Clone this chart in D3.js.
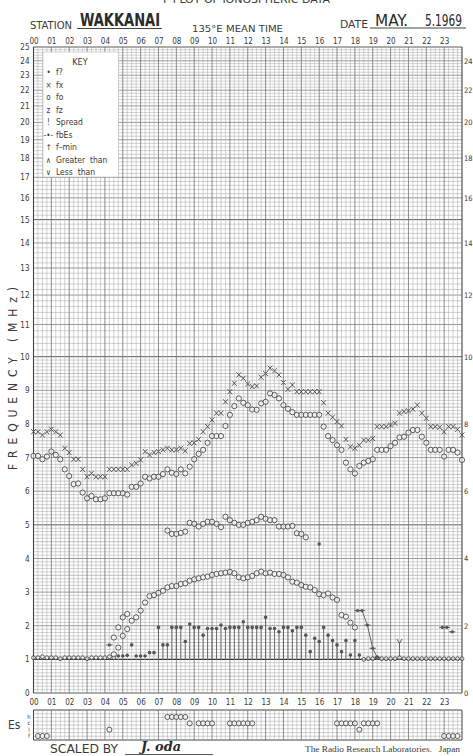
<!DOCTYPE html>
<html>
<head>
<meta charset="utf-8">
<script src="https://cdn.jsdelivr.net/npm/d3@7"></script>
<style>
body { margin: 0; background: #fff; }
svg { display: block; }
</style>
</head>
<body>
<script>
var hourLabels = ["00","01","02","03","04","05","06","07","08","09","10","11",
                  "12","13","14","15","16","17","18","19","20","21","22","23"];
var leftTicks = [0,1,2,3,4,5,6,7,8,9,10,11,12,13,14,15,16,17,18,19,20,21,22,23,24,25];
var rightTicks = [0,2,4,6,8,10,12,14,16,18,20,22,24];

// foF2, every 15 min from 00:00 to 24:00
var foF2 = [7.05,7.05,6.95,7.03, 7.18,7.08,6.95,6.65, 6.45,6.21,6.23,5.96, 5.79,5.86,5.76,5.76,
            5.79,5.94,5.94,5.94, 5.94,5.90,6.13,6.13, 6.23,6.43,6.38,6.43, 6.43,6.51,6.65,6.55,
            6.51,6.65,6.53,6.73, 6.95,7.11,7.23,7.44, 7.64,7.64,7.64,7.94, 8.27,8.53,8.76,8.63,
            8.56,8.43,8.42,8.61, 8.66,8.91,8.86,8.76, 8.56,8.45,8.35,8.27, 8.27,8.27,8.27,8.27,
            8.27,7.92,7.64,7.52, 7.37,7.23,6.85,6.65, 6.53,6.75,6.85,6.90, 6.95,7.23,7.23,7.23,
            7.34,7.44,7.60,7.62, 7.74,7.82,7.82,7.62, 7.44,7.23,7.23,7.23, 7.03,7.23,7.23,7.15,
            6.93];
// fxF2, same times
var fxF2 = [7.77,7.77,7.67,7.77, 7.84,7.77,7.67,7.28, 7.15,6.95,6.95,6.65, 6.43,6.53,6.43,6.43,
            6.43,6.65,6.65,6.65, 6.65,6.65,6.78,6.83, 6.93,7.18,7.08,7.15, 7.18,7.23,7.28,7.23,
            7.23,7.28,7.20,7.42, 7.44,7.54,7.77,7.92, 8.12,8.32,8.32,8.66, 8.96,9.21,9.46,9.36,
            9.19,9.11,9.13,9.39, 9.50,9.66,9.58,9.46, 9.23,9.03,9.16,8.96, 8.96,8.96,8.96,8.96,
            8.96,8.63,8.32,8.20, 8.07,7.94,7.54,7.32, 7.28,7.37,7.52,7.52, 7.57,7.92,7.92,7.92,
            7.97,8.02,8.32,8.37, 8.39,8.44,8.56,8.32, 8.17,7.92,7.92,7.90, 7.77,7.92,7.92,7.84,
            7.67];

var foF1Hours = [7.5,7.75,8,8.25,8.5,8.75,9,9.25,9.5,9.75,10,10.25,10.5,10.75,11,11.25,
                 11.5,11.75,12,12.25,12.5,12.75,13,13.25,13.5,13.75,14,14.25,14.5,14.75,15,15.25];
var foF1 = [4.83,4.73,4.73,4.76,4.80,5.06,5.03,4.95,5.03,5.09,5.09,5.03,4.93,5.24,5.14,5.06,
            5.00,5.00,5.06,5.09,5.14,5.24,5.18,5.14,5.14,4.95,4.95,4.95,4.97,4.75,4.73,4.63];

var foEHours = [4.5,4.75,4.5,4.75,5,5,5.25,5.25,5.5,5.75,6,6.25,6.5,6.75,7,7.25,7.5,7.75,8,8.25,
                8.5,8.75,9,9.25,9.5,9.75,10,10.25,10.5,10.75,11,11.25,11.5,11.75,12,12.25,12.5,
                12.75,13,13.25,13.5,13.75,14,14.25,14.5,14.75,15,15.25,15.5,15.75,16,16.25,16.5,
                16.75,17,17.25,17.5,17.75,18];
var foE = [1.15,1.35,1.65,1.95,1.70,2.25,2.35,1.90,2.15,2.25,2.45,2.69,2.88,2.91,2.98,3.04,3.14,
           3.18,3.18,3.24,3.26,3.34,3.38,3.41,3.44,3.46,3.51,3.54,3.56,3.58,3.60,3.56,3.44,3.41,
           3.44,3.48,3.56,3.61,3.56,3.58,3.54,3.54,3.51,3.44,3.31,3.28,3.21,3.16,3.14,3.06,2.94,
           2.91,2.96,2.84,2.77,2.32,2.27,2.09,1.95];

// f? dots with their vertical traces down to 1 MHz
var esDotHours = [7,7.25,7.5,7.75,8,8.25,8.5,8.75,9,9.25,9.5,9.75,10,10.25,10.5,10.75,11,11.25,
                  11.5,11.75,12,12.25,12.5,12.75,13,13.25,13.5,13.75,14,14.25,14.5,14.75,15,
                  15.25,15.5,15.75,16,16.25,16.5,16.75,17,17.25,17.5,17.75,18,18.25];
var esDot = [1.95,1.43,1.43,1.95,1.95,1.95,1.53,2.05,1.95,1.95,1.72,1.92,1.92,1.92,2.02,1.92,
             1.95,1.95,1.95,2.12,1.95,1.95,1.95,1.95,2.25,1.92,1.92,1.82,1.95,1.95,1.85,1.95,
             1.95,1.72,1.23,1.63,1.53,1.95,1.72,1.56,1.43,1.23,1.56,1.13,1.56,1.13];
// loose dots without traces
var looseDotHours = [4.75,5,5.25,5.5,5.75,6,6.25,6.5,6.75,16];
var looseDot = [1.10,1.10,1.12,1.43,1.10,1.10,1.10,1.20,1.20,4.43];

// fbEs
var fbEsHours = [4.25,22.9,23.15,23.45];
var fbEs = [1.43,1.95,1.95,1.82];
var fbEsTraceHours = [18.15,18.4,18.7,19.0,19.25];
var fbEsTrace = [2.45,2.45,2.02,1.33,1.06];

// f-min
var fminHours = [0,0.25,0.5,0.75,1,1.25,1.5,1.75,2,2.25,2.5,2.75,3,3.25,3.5,3.75,4,4.25,4.5,
                 18.5,18.75,19,19.25,19.5,19.75,20,20.25,20.5,20.75,21,21.25,21.5,21.75,22,
                 22.25,22.5,22.75,23,23.25,23.5,23.75,24];
var fmin = [1.05,1.05,1.08,1.05,1.05,1.05,1.02,1.05,1.05,1.05,1.05,1.05,1.02,1.05,1.05,1.05,1.05,1.08,1.05,
            1.00,1.02,1.02,1.05,1.02,1.02,1.02,1.02,1.05,1.02,1.02,1.02,1.02,1.02,1.02,
            1.02,1.02,1.02,1.02,1.02,1.02,1.02,1.02];

var lessHours = [20.5];
var lessThan = [1.5];

// Es type panel
var esTypeHours = [0.25,0.5,0.75,4.25,7.5,7.75,8,8.25,8.5,8.75,9.25,9.5,9.75,10,
                   11,11.25,11.5,11.75,12,12.25,17,17.25,17.5,17.75,18,18.25,18.5,18.75,19,19.25,
                   23,23.25,23.5,23.75];
var esTypes = ["f","f","f","l","h","h","h","h","h","c","c","c","c","c",
               "c","c","c","c","c","c","c","c","c","c","c","l","c","c","c","c",
               "f","f","f","f"];
var esRows = ["h","c","l","f"];

var keyItems = [["\u2022","f?"],["\u00d7","fx"],["o","fo"],["z","fz"],["!","Spread"],
                ["-\u2022-","fbEs"],["\u2191","f\u2013min"],["\u2227","Greater  than"],["\u2228","Less  than"]];

// ---- drawing ----
var FONT = '"DejaVu Sans Condensed","Liberation Sans Narrow",sans-serif';
var INK = "#3a3a3a";
var width = 473, height = 756;

var svg = d3.select("body").append("svg")
    .attr("width", width)
    .attr("height", height)
    .style("font-family", FONT);

var x = d3.scaleLinear().domain([0, 24]).range([33.5, 462]);
var yLow = d3.scaleLinear().domain([0, 10]).range([693, 356.7]);
var yHigh = d3.scaleLog().domain([10, 25]).range([356.7, 47]);
var y = function(f) { return f <= 10 ? yLow(f) : yHigh(f); };
var q = function(i) { return i / 4; };

// grid
var grid = svg.append("g");
var hVals = [];
for (var i = 0; i <= 100; i++) hVals.push(i / 10);
for (var i = 51; i <= 125; i++) hVals.push(i / 5);
function hStroke(f) {
  var r = Math.round(f * 10) / 10;
  if (r == 1) return ["#333", 1.4];
  if ([0,5,10,15,25].indexOf(r) >= 0) return ["#5a5a5a", 1];
  if (Math.abs(r - Math.round(r)) < 1e-6) return ["#808080", 0.8];
  if (r < 10 && Math.abs(r * 2 - Math.round(r * 2)) < 1e-6) return ["#999", 0.6];
  return ["#ababab", 0.55];
}
grid.selectAll(".h").data(hVals).join("line")
    .attr("x1", x(0)).attr("x2", x(24))
    .attr("y1", function(d) { return y(d); }).attr("y2", function(d) { return y(d); })
    .attr("stroke", function(d) { return hStroke(d)[0]; })
    .attr("stroke-width", function(d) { return hStroke(d)[1]; });
var vVals = d3.range(0, 97);
grid.selectAll(".v").data(vVals).join("line")
    .attr("x1", function(d) { return x(q(d)); }).attr("x2", function(d) { return x(q(d)); })
    .attr("y1", y(25)).attr("y2", y(0))
    .attr("stroke", function(d) { return d % 96 == 0 ? "#444" : (d % 4 == 0 ? "#777" : "#ababab"); })
    .attr("stroke-width", function(d) { return d % 96 == 0 ? 1.1 : (d % 4 == 0 ? 0.85 : 0.55); });

// axes
function styleAxis(g, size) {
  g.select(".domain").remove();
  g.selectAll("text").attr("font-size", size).attr("fill", INK).attr("font-family", FONT);
}
svg.append("g").attr("transform", "translate(" + x(0) + ",0)")
  .call(d3.axisLeft(yLow).tickValues(leftTicks.filter(function(d) { return d <= 10; }))
        .tickSize(0).tickPadding(4).tickFormat(d3.format("d")))
  .call(styleAxis, 8);
svg.append("g").attr("transform", "translate(" + x(0) + ",0)")
  .call(d3.axisLeft(yHigh).tickValues(leftTicks.filter(function(d) { return d > 10; }))
        .tickSize(0).tickPadding(4).tickFormat(d3.format("d")))
  .call(styleAxis, 8);
svg.append("g").attr("transform", "translate(" + x(24) + ",0)")
  .call(d3.axisRight(yLow).tickValues(rightTicks.filter(function(d) { return d <= 10; }))
        .tickSize(0).tickPadding(2).tickFormat(d3.format("d")))
  .call(styleAxis, 7.5);
svg.append("g").attr("transform", "translate(" + x(24) + ",0)")
  .call(d3.axisRight(yHigh).tickValues(rightTicks.filter(function(d) { return d > 10; }))
        .tickSize(0).tickPadding(2).tickFormat(d3.format("d")))
  .call(styleAxis, 7.5);
svg.append("g").attr("transform", "translate(0," + y(25) + ")")
  .call(d3.axisTop(x).tickValues(d3.range(24)).tickSize(0).tickPadding(3)
        .tickFormat(function(d) { return hourLabels[d]; }))
  .call(styleAxis, 8);
svg.append("g").attr("transform", "translate(0," + y(0) + ")")
  .call(d3.axisBottom(x).tickValues(d3.range(24)).tickSize(0).tickPadding(6)
        .tickFormat(function(d) { return hourLabels[d]; }))
  .call(styleAxis, 8);

// marks
var marks = svg.append("g");
var MARK = "#4a4a4a";
function circles(hours, vals, r) {
  marks.append("g").selectAll("circle").data(vals).join("circle")
    .attr("cx", function(d, i) { return x(hours(i)); })
    .attr("cy", function(d) { return y(d); })
    .attr("r", r)
    .attr("fill", "rgba(255,255,255,0.55)")
    .attr("stroke", MARK).attr("stroke-width", 0.9);
}
// vertical traces of f? dots
marks.append("g").selectAll("line").data(esDot).join("line")
  .attr("x1", function(d, i) { return x(esDotHours[i]); })
  .attr("x2", function(d, i) { return x(esDotHours[i]); })
  .attr("y1", function(d) { return y(d); }).attr("y2", y(1.0))
  .attr("stroke", "#555").attr("stroke-width", 0.8);
// less-than trace
marks.append("g").selectAll("line").data(lessThan).join("line")
  .attr("x1", function(d, i) { return x(lessHours[i]); })
  .attr("x2", function(d, i) { return x(lessHours[i]); })
  .attr("y1", function(d) { return y(d); }).attr("y2", y(1.0))
  .attr("stroke", "#555").attr("stroke-width", 0.8);
marks.append("g").selectAll("path").data(lessThan).join("path")
  .attr("transform", function(d, i) { return "translate(" + x(lessHours[i]) + "," + y(d) + ")"; })
  .attr("d", "M-2.5,-3.5L0,1L2.5,-3.5").attr("fill", "none").attr("stroke", MARK).attr("stroke-width", 0.9);

circles(function(i) { return fminHours[i]; }, fmin, 1.9);
circles(q, foF2, 2.6);
circles(function(i) { return foF1Hours[i]; }, foF1, 2.6);
circles(function(i) { return foEHours[i]; }, foE, 2.6);

var xPath = "M-2.4,-2.6L2.4,2.6M-2.4,2.6L2.4,-2.6";
marks.append("g").selectAll("path").data(fxF2).join("path")
  .attr("transform", function(d, i) { return "translate(" + x(q(i)) + "," + y(d) + ")"; })
  .attr("d", xPath).attr("stroke", MARK).attr("stroke-width", 0.9);

function dots(hours, vals) {
  marks.append("g").selectAll("circle").data(vals).join("circle")
    .attr("cx", function(d, i) { return x(hours[i]); })
    .attr("cy", function(d) { return y(d); })
    .attr("r", 1.8).attr("fill", "#555");
}
dots(esDotHours, esDot);
dots(looseDotHours, looseDot);

// fbEs
var traceLine = d3.line()
  .x(function(d, i) { return x(fbEsTraceHours[i]); })
  .y(function(d) { return y(d); });
marks.append("path").datum(fbEsTrace).attr("d", traceLine)
  .attr("fill", "none").attr("stroke", "#555").attr("stroke-width", 0.9);
function fbMarks(hours, vals) {
  var g = marks.append("g").selectAll("g").data(vals).join("g")
    .attr("transform", function(d, i) { return "translate(" + x(hours[i]) + "," + y(d) + ")"; });
  g.append("line").attr("x1", -3.2).attr("x2", 3.2).attr("stroke", "#555").attr("stroke-width", 0.9);
  g.append("circle").attr("r", 1.6).attr("fill", "#555");
}
fbMarks(fbEsHours, fbEs);
fbMarks(fbEsTraceHours, fbEsTrace);

// key
var key = svg.append("g");
key.append("rect").attr("x", 43).attr("y", 52).attr("width", 75.5).attr("height", 125)
  .attr("fill", "#fff").attr("stroke", "#bbb").attr("stroke-width", 0.6);
key.append("text").attr("x", 80).attr("y", 65).attr("text-anchor", "middle")
  .attr("font-size", 9).attr("fill", INK).text("KEY");
var keyRows = key.selectAll("g").data(keyItems).join("g")
  .attr("transform", function(d, i) { return "translate(0," + (75 + i * 12.5) + ")"; });
keyRows.append("text").attr("x", 48.5).attr("text-anchor", "middle")
  .attr("font-size", 8).attr("fill", INK).text(function(d) { return d[0]; });
keyRows.append("text").attr("x", 56).attr("font-size", 8.5).attr("fill", INK)
  .style("white-space", "pre").text(function(d) { return d[1]; });

// Es panel
var esTop = 710, esBottom = 740;
var esY = d3.scalePoint().domain(esRows).range([717, 736]);
var esGridY = d3.scaleLinear().domain([0, 8]).range([esTop, esBottom]);
var es = svg.append("g");
es.selectAll(".eh").data(d3.range(0, 9)).join("line")
  .attr("x1", x(0)).attr("x2", x(24))
  .attr("y1", function(d) { return esGridY(d); }).attr("y2", function(d) { return esGridY(d); })
  .attr("stroke", function(d) { return d % 8 == 0 ? "#444" : "#ababab"; })
  .attr("stroke-width", function(d) { return d % 8 == 0 ? 1 : 0.55; });
es.selectAll(".ev").data(vVals).join("line")
  .attr("x1", function(d) { return x(q(d)); }).attr("x2", function(d) { return x(q(d)); })
  .attr("y1", esTop).attr("y2", esBottom)
  .attr("stroke", function(d) { return d % 96 == 0 ? "#444" : (d % 4 == 0 ? "#777" : "#ababab"); })
  .attr("stroke-width", function(d) { return d % 96 == 0 ? 1 : (d % 4 == 0 ? 0.85 : 0.55); });
es.selectAll("circle").data(esTypes).join("circle")
  .attr("cx", function(d, i) { return x(esTypeHours[i]); })
  .attr("cy", function(d) { return esY(d); })
  .attr("r", 2.5).attr("fill", "rgba(255,255,255,0.6)")
  .attr("stroke", MARK).attr("stroke-width", 0.9);
es.selectAll("text.row").data(esRows).join("text").attr("class", "row")
  .attr("x", 29).attr("y", function(d) { return esY(d) + 2; })
  .attr("text-anchor", "middle").attr("font-size", 6).attr("fill", INK)
  .text(function(d) { return d; });
svg.append("text").attr("x", 8).attr("y", 729).attr("font-size", 12).attr("fill", INK).text("Es");

// titles
svg.append("text").attr("x", 163).attr("y", 3).attr("font-size", 10).attr("fill", INK)
  .attr("textLength", 167).attr("lengthAdjust", "spacingAndGlyphs").text("F PLOT OF IONOSPHERIC DATA");
svg.append("text").attr("x", 30).attr("y", 28.5).attr("font-size", 10).attr("fill", INK)
  .attr("textLength", 42).attr("lengthAdjust", "spacingAndGlyphs").text("STATION");
svg.append("text").attr("x", 80).attr("y", 25.5).attr("font-size", 18).attr("font-weight", "bold")
  .attr("fill", "#2a2a2a").attr("textLength", 80).attr("lengthAdjust", "spacingAndGlyphs").text("WAKKANAI");
svg.append("line").attr("x1", 77).attr("x2", 162).attr("y1", 28.5).attr("y2", 28.5)
  .attr("stroke", "#444").attr("stroke-width", 1);
svg.append("text").attr("x", 192).attr("y", 31.7).attr("font-size", 8.5).attr("fill", INK)
  .attr("textLength", 91).attr("lengthAdjust", "spacingAndGlyphs").text("135\u00b0E MEAN TIME");
svg.append("text").attr("x", 340).attr("y", 28.3).attr("font-size", 10).attr("fill", INK)
  .attr("textLength", 28).attr("lengthAdjust", "spacingAndGlyphs").text("DATE");
svg.append("text").attr("x", 375).attr("y", 25.7).attr("font-size", 16).attr("fill", "#2a2a2a")
  .attr("textLength", 33).attr("lengthAdjust", "spacingAndGlyphs").text("MAY.");
svg.append("text").attr("x", 425).attr("y", 25.7).attr("font-size", 16).attr("fill", "#2a2a2a")
  .attr("textLength", 37).attr("lengthAdjust", "spacingAndGlyphs").text("5.1969");
svg.append("line").attr("x1", 370).attr("x2", 466).attr("y1", 28).attr("y2", 28)
  .attr("stroke", "#444").attr("stroke-width", 1);

svg.append("text").attr("transform", "translate(17,378.5) rotate(-90)")
  .attr("text-anchor", "middle").attr("font-size", 12).attr("fill", INK)
  .attr("textLength", 183).attr("lengthAdjust", "spacing").text("FREQUENCY (MHz)");

// footer
svg.append("text").attr("x", 50).attr("y", 753).attr("font-size", 11.5).attr("fill", INK)
  .attr("textLength", 68).attr("lengthAdjust", "spacingAndGlyphs").text("SCALED  BY");
svg.append("text").attr("x", 141).attr("y", 750.5).attr("font-size", 12).attr("font-style", "italic")
  .attr("font-weight", "bold").attr("font-family", '"DejaVu Serif",serif').attr("fill", "#2a2a2a")
  .attr("textLength", 40).attr("lengthAdjust", "spacingAndGlyphs").text("J. oda");
svg.append("line").attr("x1", 125).attr("x2", 213).attr("y1", 754.5).attr("y2", 754.5)
  .attr("stroke", "#444").attr("stroke-width", 0.9);
svg.append("text").attr("x", 305).attr("y", 751.7).attr("font-size", 7.5)
  .attr("font-family", '"Liberation Serif","DejaVu Serif",serif').attr("fill", INK)
  .attr("textLength", 155).attr("lengthAdjust", "spacingAndGlyphs").style("white-space", "pre")
  .text("The Radio Research Laboratories.   Japan");
</script>
</body>
</html>
